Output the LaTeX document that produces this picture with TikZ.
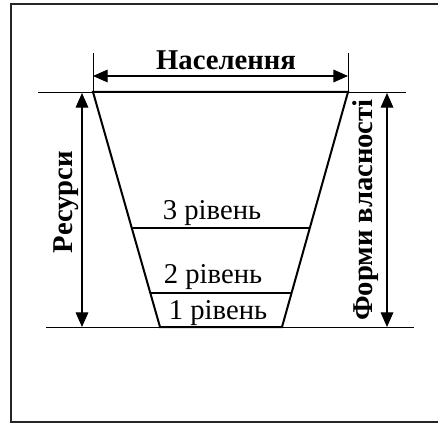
\documentclass[tikz,border=0pt]{standalone}
\usepackage{fontspec}
\setmainfont{Liberation Serif}
\usepackage{tikz}
\usetikzlibrary{arrows.meta, calc}

\begin{document}
\begin{tikzpicture}[x=0.75pt, y=-0.75pt,
  >={Triangle[length=11pt, width=9.5pt]},
  frm/.style={draw=black!85, line width=1.8pt},
  guide/.style={draw=black, line width=0.6pt},
  trap/.style={draw=black, line width=1.5pt},
  dim/.style={draw=black, line width=0.9pt, <->},
  lvl/.style={font=\fontsize{21.5}{26}\selectfont, anchor=base},
  ttl/.style={font=\fontsize{21.5}{26}\selectfont\bfseries, anchor=base}
]
  \useasboundingbox (0,0) rectangle (438,427);

  %% Frame (right side runs off the page)
  \draw[frm] (438,4) -- (11,4) -- (11,422) -- (438,422);

  %% Trapezoid corners
  \coordinate (TL) at (93,92);
  \coordinate (TR) at (348,92);
  \coordinate (BL) at (160,327);
  \coordinate (BR) at (282,327);

  %% Guide lines
  \coordinate (gTL) at (38,92);
  \coordinate (gTR) at (406,92);
  \coordinate (gBL) at (46,327);
  \coordinate (gBR) at (414,327);
  \draw[guide] (gTL) -- (gTR);
  \draw[guide] (gBL) -- (gBR);
  \coordinate (tL) at (93,53);
  \coordinate (tR) at (348,53);
  \draw[guide] (tL) -- (TL);
  \draw[guide] (tR) -- (TR);

  %% Trapezoid
  \draw[trap] (TL) -- (TR) -- (BR) -- (BL) -- cycle;

  %% Level lines
  \draw[trap] ($(TL)!0.579!(BL)$) coordinate (L3a) -- ($(TR)!0.579!(BR)$) coordinate (L3b);
  \draw[trap] ($(TL)!0.855!(BL)$) coordinate (L2a) -- ($(TR)!0.855!(BR)$) coordinate (L2b);

  %% Level labels
  \node[lvl] (lev3) at (212,220) {3 рівень};
  \node[lvl] (lev2) at (213,283) {2 рівень};
  \node[lvl] (lev1) at (218,319) {1 рівень};

  %% Population
  \coordinate (pL) at (93,76);
  \coordinate (pR) at (348,76);
  \draw[dim] (pL) -- (pR);
  \node[ttl] (pop) at (226,70) {Населення};

  %% Resources
  \coordinate (rT) at (82,93);
  \coordinate (rB) at (82,327);
  \draw[dim] (rT) -- (rB);
  \node[ttl, rotate=90] (res) at (72,202) {Ресурси};

  %% Forms of ownership
  \coordinate (fT) at (387,93);
  \coordinate (fB) at (387,327);
  \draw[dim] (fT) -- (fB);
  \node[ttl, rotate=90] (own) at (372,210) {Форми власності};
\end{tikzpicture}
\end{document}
